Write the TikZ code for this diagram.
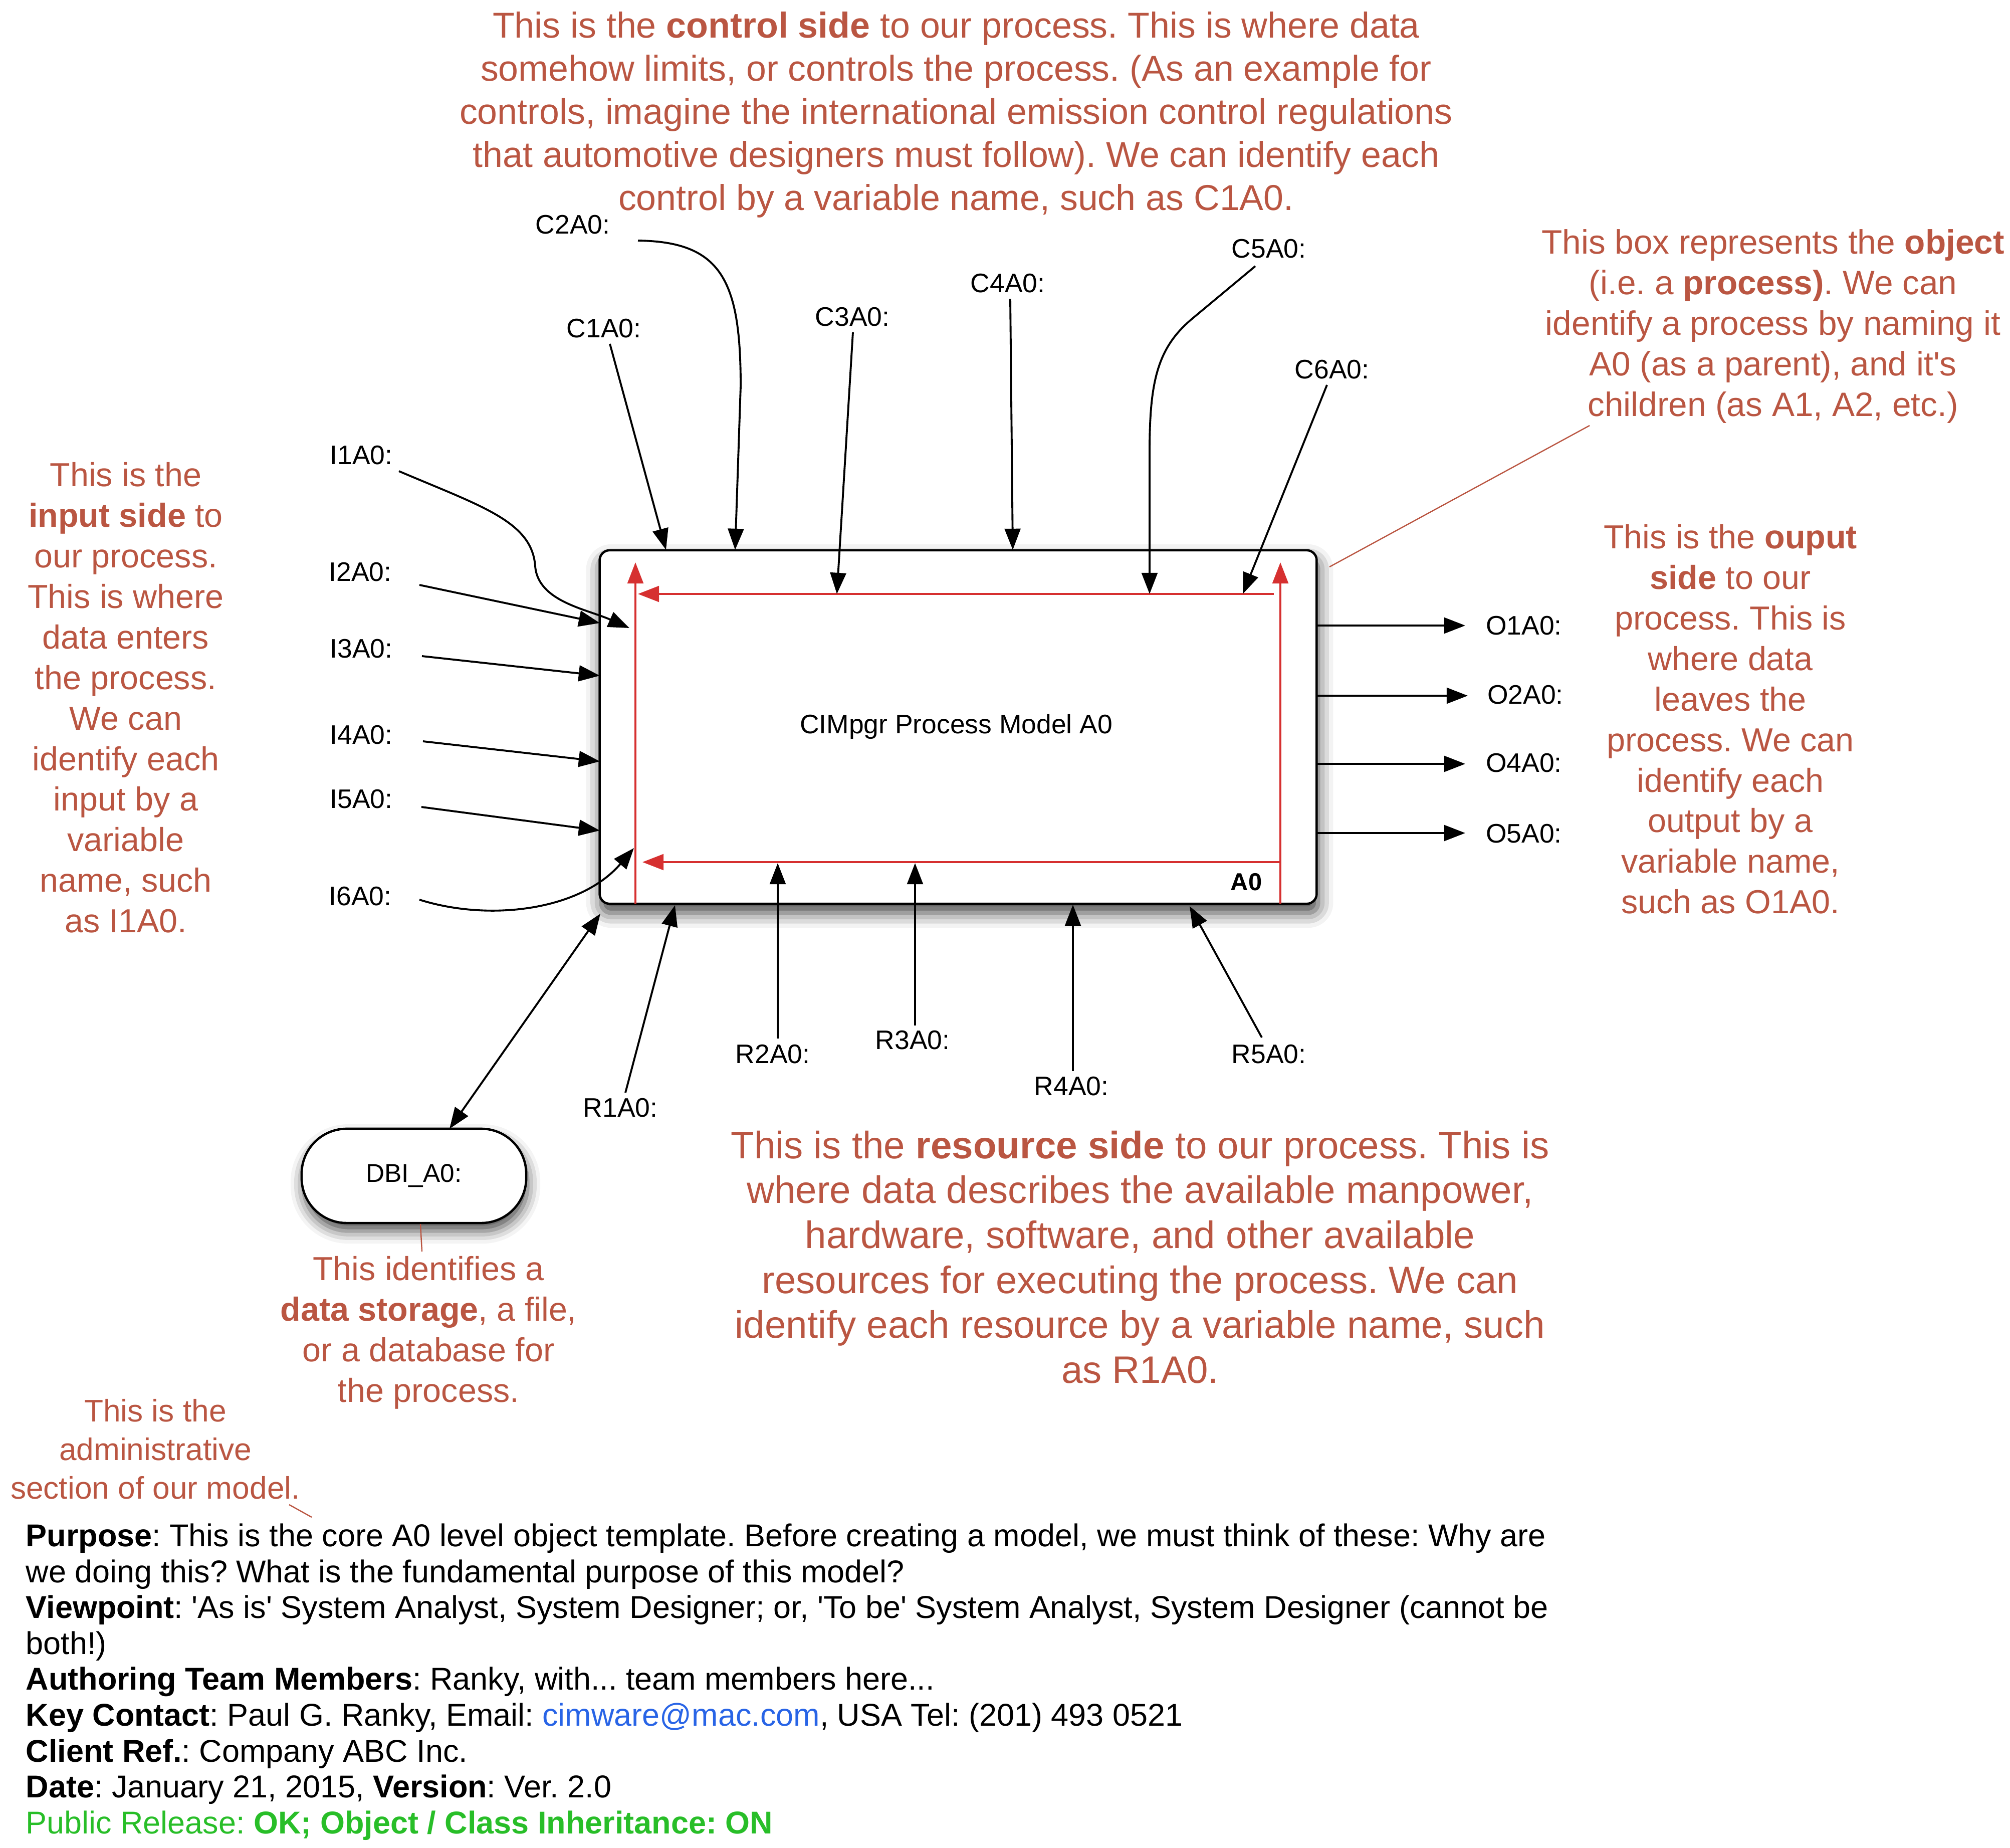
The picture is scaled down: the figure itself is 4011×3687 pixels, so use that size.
\documentclass[tikz,border=0pt]{standalone}
\usepackage{fontspec}
\setmainfont{Liberation Sans}
\usetikzlibrary{arrows.meta,shadows.blur}
\definecolor{notecol}{RGB}{186,86,66}
\definecolor{redline}{RGB}{214,48,48}
\definecolor{mailblue}{RGB}{40,100,230}
\definecolor{relgreen}{RGB}{40,190,40}
\newcommand{\sqt}{\textquotesingle}
\frenchspacing
\begin{document}
\frenchspacing
\begin{tikzpicture}[x=0.01cm, y=-0.01cm,
  lbl/.style={font=\fontsize{15.2}{18}\selectfont, inner sep=0pt},
  note/.style={text=notecol, align=center, inner sep=0pt},
  adminline/.style={anchor=base west, inner sep=0pt, font=\fontsize{17.9}{20.4}\selectfont},
  arr/.style={draw=black, line width=1.1pt, -{Triangle[length=12pt,width=9pt]}},
  dblarr/.style={draw=black, line width=1.1pt, {Triangle[length=12pt,width=9pt]}-{Triangle[length=12pt,width=9pt]}},
  redarr/.style={draw=redline, line width=1.1pt, -{Triangle[length=12pt,width=9pt]}},
  ptr/.style={draw=notecol, line width=0.7pt},
  procbox/.style={draw, line width=1.3pt, fill=white, rounded corners=0.2cm,
    blur shadow={shadow xshift=0.03cm, shadow yshift=-0.18cm, shadow blur radius=0.3cm, shadow opacity=75}},
  dbibox/.style={draw, line width=1.3pt, fill=white, rounded corners=0.9cm,
    minimum width=4.48cm, minimum height=1.88cm, font=\fontsize{14.6}{17}\selectfont,
    blur shadow={shadow xshift=0.03cm, shadow yshift=-0.16cm, shadow blur radius=0.25cm, shadow opacity=70}},
]
\useasboundingbox (0,0) rectangle (4011,3687);

% ---------- main process box ----------
\node[procbox, minimum width=14.30cm, minimum height=7.05cm] (box) at (1912,1450.5) {};
\node[lbl] (title) at (1908,1450) {CIMpgr Process Model A0};
\node[inner sep=0pt, font=\bfseries\fontsize{13.9}{16}\selectfont] (a0) at (2487,1760) {A0};

% ---------- inner red frame ----------
\coordinate (rlb) at (1268,1803); \coordinate (rlt) at (1268,1122);
\coordinate (rtr) at (2542,1185); \coordinate (rtl) at (1273,1185);
\coordinate (rrb) at (2555,1803); \coordinate (rrt) at (2555,1122);
\coordinate (rbr) at (2555,1720); \coordinate (rbl) at (1282,1720);
\draw[redarr] (rlb) -- (rlt);
\draw[redarr] (rtr) -- (rtl);
\draw[redarr] (rrb) -- (rrt);
\draw[redarr] (rbr) -- (rbl);

% ---------- labels ----------
\node[lbl] (C2) at (1143,448) {C2A0:};
\node[lbl] (C1) at (1205,655) {C1A0:};
\node[lbl] (C3) at (1701,632) {C3A0:};
\node[lbl] (C4) at (2011,565) {C4A0:};
\node[lbl] (C5) at (2532,496) {C5A0:};
\node[lbl] (C6) at (2658,737) {C6A0:};
\node[lbl] (I1) at (721,908) {I1A0:};
\node[lbl] (I2) at (719,1141) {I2A0:};
\node[lbl] (I3) at (721,1294) {I3A0:};
\node[lbl] (I4) at (721,1466) {I4A0:};
\node[lbl] (I5) at (721,1594) {I5A0:};
\node[lbl] (I6) at (719,1788) {I6A0:};
\node[lbl] (O1) at (3041,1248) {O1A0:};
\node[lbl] (O2) at (3044,1386) {O2A0:};
\node[lbl] (O4) at (3041,1522) {O4A0:};
\node[lbl] (O5) at (3041,1663) {O5A0:};
\node[lbl] (R1) at (1238,2210) {R1A0:};
\node[lbl] (R2) at (1542,2103) {R2A0:};
\node[lbl] (R3) at (1821,2075) {R3A0:};
\node[lbl] (R4) at (2138,2167) {R4A0:};
\node[lbl] (R5) at (2532,2103) {R5A0:};

% ---------- control arrows ----------
\coordinate (c1s) at (1217,686);  \coordinate (c1e) at (1329,1097);
\coordinate (c2s) at (1273,480);  \coordinate (c2e) at (1467,1097);
\coordinate (c3s) at (1702,663);  \coordinate (c3e) at (1670,1185);
\coordinate (c4s) at (2016,596);  \coordinate (c4e) at (2021,1097);
\coordinate (c5s) at (2505,531);  \coordinate (c5e) at (2294,1185);
\coordinate (c6s) at (2648,768);  \coordinate (c6e) at (2480,1185);
\draw[arr] (c1s) -- (c1e);
\draw[arr] (c2s) .. controls (1440,482) and (1478,560) .. (1478,770) -- (c2e);
\draw[arr] (c3s) -- (c3e);
\draw[arr] (c4s) -- (c4e);
\draw[arr] (c5s) -- (2380,635) .. controls (2310,693) and (2294,760) .. (2294,900) -- (c5e);
\draw[arr] (c6s) -- (c6e);

% ---------- input arrows ----------
\coordinate (i1s) at (796,940);  \coordinate (i1e) at (1256,1253);
\coordinate (i2s) at (837,1167); \coordinate (i2e) at (1197,1243);
\coordinate (i3s) at (842,1309); \coordinate (i3e) at (1197,1348);
\coordinate (i4s) at (844,1479); \coordinate (i4e) at (1197,1519);
\coordinate (i5s) at (841,1610); \coordinate (i5e) at (1197,1657);
\coordinate (i6s) at (837,1795); \coordinate (i6e) at (1265,1692);
\draw[arr] (i1s) .. controls (960,1010) and (1062,1040) .. (1068,1130)
                 .. controls (1074,1200) and (1170,1215) .. (i1e);
\draw[arr] (i2s) -- (i2e);
\draw[arr] (i3s) -- (i3e);
\draw[arr] (i4s) -- (i4e);
\draw[arr] (i5s) -- (i5e);
\draw[arr] (i6s) .. controls (980,1840) and (1160,1815) .. (i6e);

% ---------- output arrows ----------
\coordinate (o1s) at (2627,1248); \coordinate (o1e) at (2924,1248);
\coordinate (o2s) at (2627,1388); \coordinate (o2e) at (2929,1388);
\coordinate (o4s) at (2627,1524); \coordinate (o4e) at (2924,1524);
\coordinate (o5s) at (2627,1662); \coordinate (o5e) at (2924,1662);
\draw[arr] (o1s) -- (o1e);
\draw[arr] (o2s) -- (o2e);
\draw[arr] (o4s) -- (o4e);
\draw[arr] (o5s) -- (o5e);

% ---------- resource arrows ----------
\coordinate (r1s) at (1248,2180); \coordinate (r1e) at (1347,1806);
\coordinate (r2s) at (1552,2072); \coordinate (r2e) at (1552,1722);
\coordinate (r3s) at (1826,2046); \coordinate (r3e) at (1826,1722);
\coordinate (r4s) at (2141,2137); \coordinate (r4e) at (2141,1805);
\coordinate (r5s) at (2518,2070); \coordinate (r5e) at (2374,1808);
\draw[arr] (r1s) -- (r1e);
\draw[arr] (r2s) -- (r2e);
\draw[arr] (r3s) -- (r3e);
\draw[arr] (r4s) -- (r4e);
\draw[arr] (r5s) -- (r5e);

% ---------- data store ----------
\node[dbibox] (dbi) at (826,2346) {DBI\_A0:};
\coordinate (dbit) at (897,2252); \coordinate (boxbl) at (1198,1823);
\draw[dblarr] (dbit) -- (boxbl);

% ---------- annotations ----------
\node[note, font=\fontsize{20.4}{24.4}\selectfont] (ctrlnote) at (1908,229)
  {This is the \textbf{control side} to our process. This is where data\\
   somehow limits, or controls the process. (As an example for\\
   controls, imagine the international emission control regulations\\
   that automotive designers must follow). We can identify each\\
   control by a variable name, such as C1A0.};

\node[note, font=\fontsize{19.2}{23}\selectfont] (objnote) at (3538,651)
  {This box represents the \textbf{object}\\
   (i.e. a \textbf{process)}. We can\\
   identify a process by naming it\\
   A0 (as a parent), and it\sqt s\\
   children (as A1, A2, etc.)};
\coordinate (objp1) at (3172,849); \coordinate (objp2) at (2653,1131);
\draw[ptr] (objp1) -- (objp2);

\node[note, font=\fontsize{18.9}{23}\selectfont] (innote) at (251,1392)
  {This is the\\ \textbf{input side} to\\ our process.\\ This is where\\ data enters\\
   the process.\\ We can\\ identify each\\ input by a\\ variable\\ name, such\\ as I1A0.};

\node[note, font=\fontsize{18.9}{23}\selectfont] (outnote) at (3453,1435)
  {This is the \textbf{ouput}\\ \textbf{side} to our\\ process. This is\\ where data\\ leaves the\\
   process. We can\\ identify each\\ output by a\\ variable name,\\ such as O1A0.};

\node[note, font=\fontsize{21.7}{25.5}\selectfont] (resnote) at (2275,2508)
  {This is the \textbf{resource side} to our process. This is\\
   where data describes the available manpower,\\
   hardware, software, and other available\\
   resources for executing the process. We can\\
   identify each resource by a variable name, such\\
   as R1A0.};

\node[note, font=\fontsize{18.9}{23}\selectfont] (dbinote) at (855,2659)
  {This identifies a\\ \textbf{data storage}, a file,\\ or a database for\\ the process.};
\coordinate (dbip1) at (839,2442); \coordinate (dbip2) at (842,2497);
\draw[ptr] (dbip1) -- (dbip2);

\node[note, font=\fontsize{17.7}{21.9}\selectfont] (admnote) at (310,2891)
  {This is the\\ administrative\\ section of our model.};
\coordinate (admp1) at (577,3002); \coordinate (admp2) at (622,3027);
\draw[ptr] (admp1) -- (admp2);

% ---------- administrative section ----------
\node[adminline] (ad1) at (51,3085) {\textbf{Purpose}: This is the core A0 level object template. Before creating a model, we must think of these: Why are};
\node[adminline] (ad2) at (51,3157) {we doing this? What is the fundamental purpose of this model?};
\node[adminline] (ad3) at (51,3228) {\textbf{Viewpoint}: \sqt As is\sqt\ System Analyst, System Designer; or, \sqt To be\sqt\ System Analyst, System Designer (cannot be};
\node[adminline] (ad4) at (51,3300) {both!)};
\node[adminline] (ad5) at (51,3371) {\textbf{Authoring Team Members}: Ranky, with... team members here...};
\node[adminline] (ad6) at (51,3443) {\textbf{Key Contact}: Paul G. Ranky, Email: {\color{mailblue}cimware@mac.com}, USA Tel: (201) 493 0521};
\node[adminline] (ad7) at (51,3515) {\textbf{Client Ref.}: Company ABC Inc.};
\node[adminline] (ad8) at (51,3586) {\textbf{Date}: January 21, 2015, \textbf{Version}: Ver. 2.0};
\node[adminline, text=relgreen] (ad9) at (51,3658) {Public Release: \textbf{OK; Object / Class Inheritance: ON}};
\end{tikzpicture}
\end{document}
